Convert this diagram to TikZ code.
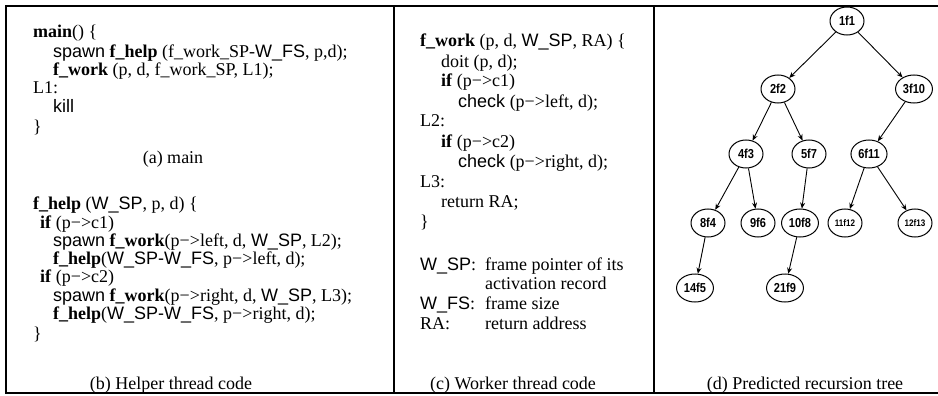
\documentclass[tikz,border=0pt]{standalone}
\usepackage{fontspec}
\setmainfont{Liberation Serif}
\setsansfont{Liberation Sans}
\newfontfamily\treefont[FakeStretch=0.85]{Liberation Sans}
\usetikzlibrary{shapes.geometric,arrows.meta}

% sans-serif identifiers inside the code listings
\newcommand{\sv}[1]{\textsf{#1}}

\begin{document}
\begin{tikzpicture}[x=1pt,y=-1pt,
  code/.style={anchor=base west, inner sep=0pt, font=\fontsize{18}{20}\selectfont},
  capt/.style={anchor=base, inner sep=0pt, font=\fontsize{18}{20}\selectfont},
  tn/.style={draw, ellipse, line width=1pt, inner xsep=2pt, inner ysep=0.5pt,
    minimum height=28pt, minimum width=34pt,
    font=\treefont\bfseries\fontsize{13}{14}\selectfont},
  tns/.style={tn, inner xsep=1pt, font=\treefont\bfseries\fontsize{9.5}{10}\selectfont},
  edge/.style={-{Stealth[length=6pt,width=5pt]}, line width=0.9pt},
  frame/.style={line width=1.6pt}]

\useasboundingbox (0,0) rectangle (938,396);

% frame and panel dividers
\draw[frame] (938,6) -- (6,6) -- (6,393) -- (938,393);
\draw[frame] (394,6) -- (394,393);
\draw[frame] (654,6) -- (654,393);

% (a) main
\node[code] (a1) at (33,38)  {\textbf{main}() \{};
\node[code] (a2) at (53,58)  {\sv{spawn} \textbf{f\_help} (f\_work\_SP-\sv{W\_FS}, p,d);};
\node[code] (a3) at (53,76)  {\textbf{f\_work} (p, d, f\_work\_SP, L1);};
\node[code] (a4) at (33,94)  {L1:};
\node[code] (a5) at (53,113) {\sv{kill}};
\node[code] (a6) at (33,132) {\}};
\node[capt] (acap) at (173,163) {(a) main};

% (b) helper thread
\node[code] (b1) at (33,209) {\textbf{f\_help} (\sv{W\_SP}, p, d) \{};
\node[code] (b2) at (40,228) {\textbf{if} (p−>c1)};
\node[code] (b3) at (53,246) {\sv{spawn} \textbf{f\_work}(p−>left, d, \sv{W\_SP}, L2);};
\node[code] (b4) at (53,264) {\textbf{f\_help}(\sv{W\_SP-W\_FS}, p−>left, d);};
\node[code] (b5) at (40,282) {\textbf{if} (p−>c2)};
\node[code] (b6) at (53,301) {\sv{spawn} \textbf{f\_work}(p−>right, d, \sv{W\_SP}, L3);};
\node[code] (b7) at (53,319) {\textbf{f\_help}(\sv{W\_SP-W\_FS}, p−>right, d);};
\node[code] (b8) at (33,339) {\}};
\node[capt] (bcap) at (171,389) {(b) Helper thread code};

% (c) worker thread
\node[code] (c1) at (420,47)  {\textbf{f\_work} (p, d, \sv{W\_SP}, RA) \{};
\node[code] (c2) at (441,67)  {doit (p, d);};
\node[code] (c3) at (441,87)  {\textbf{if} (p−>c1)};
\node[code] (c4) at (458,107) {\sv{check} (p−>left, d);};
\node[code] (c5) at (420,127) {L2:};
\node[code] (c6) at (441,147) {\textbf{if} (p−>c2)};
\node[code] (c7) at (458,167) {\sv{check} (p−>right, d);};
\node[code] (c8) at (420,187) {L3:};
\node[code] (c9) at (441,207) {return RA;};
\node[code] (c10) at (420,227) {\}};
\node[code] (k1) at (420,270)  {\sv{W\_SP}:};
\node[code] (v1) at (485,270)  {frame pointer of its};
\node[code] (v1b) at (485,289) {activation record};
\node[code] (k2) at (420,309)  {\sv{W\_FS}:};
\node[code] (v2) at (485,309)  {frame size};
\node[code] (k3) at (420,329)  {RA:};
\node[code] (v3) at (485,329)  {return address};
\node[capt] (ccap) at (513,389) {(c) Worker thread code};

% (d) predicted recursion tree
\node[tn]  (n1)  at (847,21)  {1f1};
\node[tn]  (n2)  at (778,89)  {2f2};
\node[tn]  (n3)  at (914,89)  {3f10};
\node[tn]  (n4)  at (746,154) {4f3};
\node[tn]  (n5)  at (809,154) {5f7};
\node[tn]  (n6)  at (869,154) {6f11};
\node[tn]  (n8)  at (708,223) {8f4};
\node[tn]  (n9)  at (758,223) {9f6};
\node[tn]  (n10) at (800,223) {10f8};
\node[tns] (n11) at (845,223) {11f12};
\node[tns] (n12) at (915,223) {12f13};
\node[tn]  (n14) at (695,288) {14f5};
\node[tn]  (n21) at (785,288) {21f9};

\draw[edge] (n1) -- (n2);
\draw[edge] (n1) -- (n3);
\draw[edge] (n2) -- (n4);
\draw[edge] (n2) -- (n5);
\draw[edge] (n3) -- (n6);
\draw[edge] (n4) -- (n8);
\draw[edge] (n4) -- (n9);
\draw[edge] (n5) -- (n10);
\draw[edge] (n6) -- (n11);
\draw[edge] (n6) -- (n12);
\draw[edge] (n8) -- (n14);
\draw[edge] (n10) -- (n21);

\node[capt] (dcap) at (805,389) {(d) Predicted recursion tree};
\end{tikzpicture}
\end{document}
